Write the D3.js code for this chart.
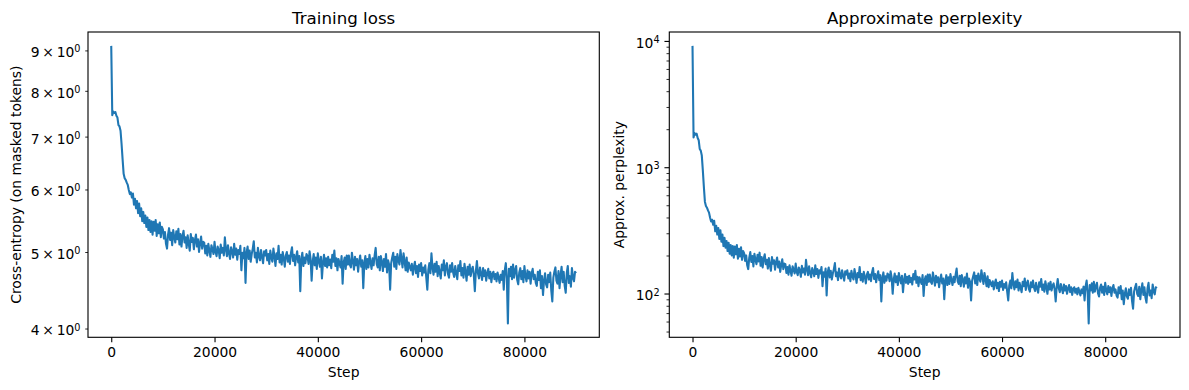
<!DOCTYPE html>
<html>
<head>
<meta charset="utf-8">
<script src="https://cdn.jsdelivr.net/npm/d3@7"></script>
<style>
body { margin: 0; background: #fff; }
svg { display: block; font-family: "DejaVu Sans", sans-serif; }
</style>
</head>
<body>
<svg id="fig" width="1189" height="390"></svg>
<script>
// cross-entropy logged every 200 steps
var earlyEvery = 200;
var earlyLoss = [9.12, 7.45, 7.53, 7.50, 7.52, 7.44, 7.40, 7.24, 7.21, 7.12,
	6.85, 6.55, 6.28, 6.20, 6.17, 6.12, 6.08, 5.99, 5.92, 5.95,
	5.86, 5.93, 5.74, 5.84, 5.68, 5.80, 5.60, 5.76, 5.55, 5.68,
	5.47, 5.62, 5.44, 5.56, 5.38, 5.53, 5.33, 5.49, 5.30, 5.47,
	5.26, 5.46, 5.32, 5.49, 5.24, 5.42, 5.28, 5.45, 5.22, 5.38];

var lateStart = 10000;
var lateEvery = 200;
var lateLoss = [
	5.34, 5.20, 5.30, 5.12, 5.05, 5.26, 5.36, 5.18, 5.29, 5.10, 5.33, 5.22, 5.14, 5.31, 5.19, 5.35, 5.11, 5.27, 5.08, 5.24,
	5.32, 5.14, 5.22, 5.06, 5.25, 5.12, 5.02, 5.27, 5.15, 5.21, 5.04, 5.18, 5.26, 5.08, 5.19, 5.00, 5.13, 5.23, 5.05, 5.15,
	5.14, 4.98, 5.09, 4.95, 5.12, 5.02, 4.93, 5.10, 5.04, 4.97, 5.15, 5.00, 4.94, 5.08, 5.03, 4.91, 5.11, 4.99, 5.06, 4.95,
	5.22, 5.04, 4.94, 5.10, 4.98, 4.90, 5.07, 5.01, 4.92, 5.12, 4.96, 5.05, 4.89, 5.03, 4.97, 5.09, 4.74, 4.99, 4.91, 5.06,
	4.57, 4.99, 5.08, 4.90, 5.02, 4.86, 4.97, 5.05, 5.16, 4.92, 4.99, 4.85, 5.06, 4.94, 4.88, 5.03, 4.93, 4.84, 5.01, 4.95,
	5.03, 4.88, 4.97, 4.83, 5.02, 4.92, 4.86, 5.05, 4.94, 4.80, 4.98, 4.90, 5.09, 4.85, 4.96, 4.82, 5.00, 4.91, 4.79, 4.95,
	5.00, 4.86, 4.95, 4.83, 4.99, 5.07, 4.87, 4.96, 4.81, 4.93, 5.01, 4.85, 4.94, 4.46, 4.89, 4.99, 4.80, 4.92, 4.84, 4.97,
	4.94, 4.83, 5.01, 4.90, 4.60, 4.86, 4.97, 4.81, 4.92, 4.76, 4.98, 4.87, 4.79, 4.93, 4.63, 4.85, 4.96, 4.80, 4.91, 4.78,
	4.93, 4.81, 4.89, 4.77, 4.96, 4.86, 5.02, 4.80, 4.91, 4.74, 4.90, 4.84, 4.78, 4.94, 4.56, 4.85, 4.92, 4.76, 4.95, 4.82,
	4.95, 4.82, 4.78, 4.99, 4.87, 4.75, 4.93, 4.81, 4.90, 4.72, 4.86, 4.95, 4.79, 4.88, 4.50, 4.84, 4.94, 4.76, 4.90, 4.78,
	4.96, 4.85, 4.76, 4.91, 4.81, 4.95, 5.06, 4.83, 4.78, 4.93, 4.74, 4.94, 4.86, 4.73, 4.90, 4.79, 4.97, 4.71, 4.88, 4.82,
	4.48, 4.84, 4.92, 4.99, 4.79, 4.93, 4.76, 4.97, 4.88, 4.82, 5.03, 4.90, 4.78, 4.98, 4.86, 4.74, 4.92, 4.72, 4.85, 4.79,
	4.74, 4.83, 4.68, 4.79, 4.86, 4.70, 4.80, 4.65, 4.82, 4.73, 4.84, 4.67, 4.78, 4.71, 4.81, 4.64, 4.48, 4.75, 4.84, 4.70,
	4.98, 4.78, 4.68, 4.83, 4.72, 4.86, 4.66, 4.80, 4.71, 4.63, 4.82, 4.74, 4.88, 4.67, 4.79, 4.84, 4.69, 4.64, 4.81, 4.72,
	4.84, 4.71, 4.65, 4.80, 4.70, 4.62, 4.81, 4.73, 4.87, 4.67, 4.77, 4.64, 4.83, 4.72, 4.60, 4.79, 4.68, 4.82, 4.66, 4.75,
	4.79, 4.68, 4.46, 4.73, 4.87, 4.70, 4.63, 4.78, 4.69, 4.61, 4.77, 4.66, 4.74, 4.60, 4.70, 4.76, 4.63, 4.72, 4.58, 4.69,
	4.72, 4.62, 4.69, 4.59, 4.71, 4.64, 4.57, 4.68, 4.61, 4.73, 4.48, 4.74, 4.84, 4.63, 4.06, 4.76, 4.66, 4.79, 4.62, 4.82,
	4.64, 4.74, 4.80, 4.61, 4.55, 4.71, 4.77, 4.62, 4.73, 4.58, 4.80, 4.66, 4.59, 4.74, 4.63, 4.72, 4.56, 4.70, 4.76, 4.62,
	4.68, 4.57, 4.53, 4.72, 4.61, 4.74, 4.50, 4.66, 4.41, 4.60, 4.70, 4.55, 4.51, 4.68, 4.58, 4.71, 4.47, 4.33, 4.64, 4.72,
	4.78, 4.60, 4.56, 4.73, 4.50, 4.67, 4.79, 4.58, 4.72, 4.53, 4.44, 4.70, 4.80, 4.57, 4.66, 4.52, 4.77, 4.64, 4.59, 4.72,
	4.70];

var stepTicks = [0, 20000, 40000, 60000, 80000];
var lossTicks = [4, 5, 6, 7, 8, 9];
var pplMajorTicks = [100, 1000, 10000];
var pplMinorTicks = [50, 60, 70, 80, 90, 200, 300, 400, 500, 600, 700, 800, 900,
	2000, 3000, 4000, 5000, 6000, 7000, 8000, 9000];

var data = [];
earlyLoss.forEach(function(v, i) { data.push({step: i * earlyEvery, loss: v}); });
lateLoss.forEach(function(v, i) { data.push({step: lateStart + i * lateEvery, loss: v}); });
// approximate perplexity = exp(cross-entropy)
data.forEach(function(d) { d.ppl = Math.exp(d.loss); });

var svg = d3.select("#fig");
var axTop = 32, axBottom = 337.3;
var fontSize = 13.89;
var majorLen = 4.86, minorLen = 2.78;

function linPad(lo, hi) {
	var m = (hi - lo) * 0.05;
	return [lo - m, hi + m];
}
function logPad(lo, hi) {
	var a = Math.log(lo), b = Math.log(hi), m = (b - a) * 0.05;
	return [Math.exp(a - m), Math.exp(b + m)];
}

function styleAxis(g, width) {
	g.attr("font-family", null).attr("font-size", fontSize).attr("color", "#000");
	g.select(".domain").remove();
	g.selectAll(".tick line").attr("stroke-width", width);
}

function supLabel(sel, base, exp) {
	sel.text(null);
	sel.append("tspan").text(base);
	sel.append("tspan").attr("font-size", 9.7).attr("dy", -4.9).text(exp);
}

var panels = [
	{left: 88, right: 599.3, key: "loss", title: "Training loss",
		ylabel: "Cross-entropy (on masked tokens)", ylabelX: 21},
	{left: 669.3, right: 1180, key: "ppl", title: "Approximate perplexity",
		ylabel: "Approx. perplexity", ylabelX: 624}
];

panels.forEach(function(p) {
	var g = svg.append("g");

	var xScale = d3.scaleLinear()
		.domain(linPad(0, d3.max(data, function(d) { return d.step; })))
		.range([p.left, p.right]);

	var ext = d3.extent(data, function(d) { return d[p.key]; });
	var yScale = d3.scaleLog()
		.domain(logPad(ext[0], ext[1]))
		.range([axBottom, axTop]);

	var line = d3.line()
		.x(function(d) { return xScale(d.step); })
		.y(function(d) { return yScale(d[p.key]); });

	g.append("path")
		.datum(data)
		.attr("d", line)
		.attr("fill", "none")
		.attr("stroke", "#1f77b4")
		.attr("stroke-width", 2.08)
		.attr("stroke-linejoin", "round");

	// x axis
	var xa = g.append("g")
		.attr("transform", "translate(0," + axBottom + ")")
		.call(d3.axisBottom(xScale).tickValues(stepTicks).tickFormat(d3.format("d"))
			.tickSize(majorLen).tickPadding(majorLen).tickSizeOuter(0));
	styleAxis(xa, 1.11);

	// y axis
	if (p.key === "loss") {
		var ya = g.append("g")
			.attr("transform", "translate(" + p.left + ",0)")
			.call(d3.axisLeft(yScale).tickValues(lossTicks)
				.tickSize(minorLen).tickPadding(4.72).tickSizeOuter(0));
		styleAxis(ya, 0.83);
		ya.selectAll(".tick text").attr("dy", 6.4).each(function(d) {
			supLabel(d3.select(this), d + "\u2009\u00d7\u200910", "0");
		});
	} else {
		var yMin = g.append("g")
			.attr("transform", "translate(" + p.left + ",0)")
			.call(d3.axisLeft(yScale).tickValues(pplMinorTicks).tickFormat("")
				.tickSize(minorLen).tickSizeOuter(0));
		styleAxis(yMin, 0.83);
		var yMaj = g.append("g")
			.attr("transform", "translate(" + p.left + ",0)")
			.call(d3.axisLeft(yScale).tickValues(pplMajorTicks)
				.tickSize(majorLen).tickPadding(majorLen).tickSizeOuter(0));
		styleAxis(yMaj, 1.11);
		yMaj.selectAll(".tick text").attr("dy", 6.4).each(function(d) {
			supLabel(d3.select(this), "10", Math.round(Math.log10(d)));
		});
	}

	// frame
	g.append("rect")
		.attr("x", p.left).attr("y", axTop)
		.attr("width", p.right - p.left).attr("height", axBottom - axTop)
		.attr("fill", "none").attr("stroke", "#000").attr("stroke-width", 1.11);

	g.append("text")
		.attr("x", (p.left + p.right) / 2).attr("y", 23.7)
		.attr("text-anchor", "middle").attr("font-size", 16.67)
		.text(p.title);

	g.append("text")
		.attr("x", (p.left + p.right) / 2).attr("y", 376.6)
		.attr("text-anchor", "middle").attr("font-size", fontSize)
		.text("Step");

	g.append("text")
		.attr("transform", "translate(" + p.ylabelX + "," + ((axTop + axBottom) / 2) + ") rotate(-90)")
		.attr("text-anchor", "middle").attr("font-size", fontSize)
		.text(p.ylabel);
});
</script>
</body>
</html>
